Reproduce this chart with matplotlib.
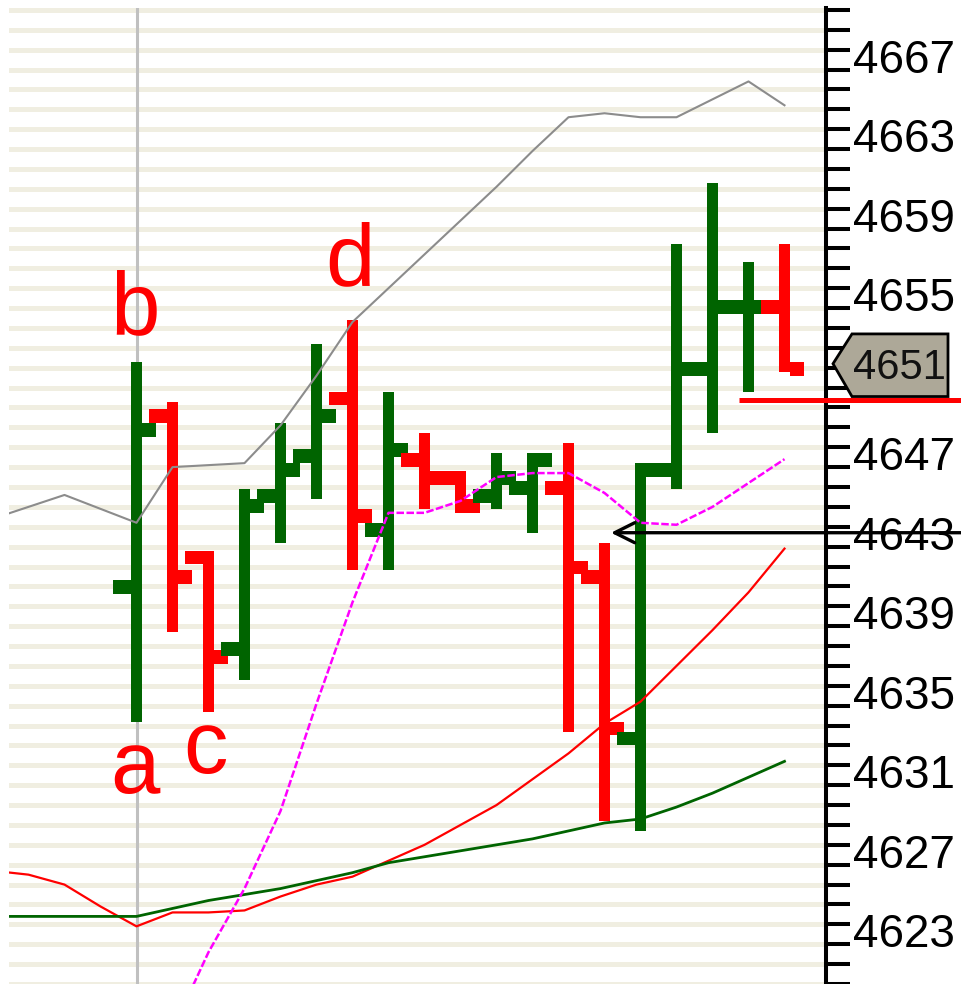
import numpy as np
import matplotlib
matplotlib.use("Agg")
import matplotlib.pyplot as plt
import matplotlib.transforms as mtransforms
from matplotlib.patches import Polygon

plt.rcParams['font.family'] = ['Liberation Sans', 'DejaVu Sans']

# OHLC bars, index 0..18
bar_open  = [4640.6, 4649.2, 4642.1, 4637.5, 4645.2, 4647.2, 4650.1, 4643.5, 4647.0, 4646.1,
             4645.2, 4645.6, 4645.6, 4641.1, 4633.0, 4646.5, 4651.6, 4654.7, 4654.7]
bar_high  = [4651.6, 4649.6, 4642.1, 4645.2, 4648.5, 4652.5, 4653.7, 4650.1, 4648.0, 4646.1,
             4647.0, 4647.0, 4647.5, 4642.5, 4646.5, 4657.5, 4660.6, 4656.6, 4657.5]
bar_low   = [4633.5, 4638.0, 4634.0, 4635.6, 4642.5, 4644.7, 4641.1, 4641.1, 4644.2, 4644.0,
             4644.2, 4643.0, 4633.0, 4628.5, 4628.0, 4645.2, 4648.0, 4650.1, 4651.1]
bar_close = [4648.5, 4641.1, 4637.1, 4644.7, 4646.5, 4649.2, 4644.2, 4647.5, 4646.1, 4644.7,
             4646.1, 4647.0, 4641.6, 4633.5, 4646.5, 4651.6, 4654.7, 4654.7, 4651.6]

# overlay lines, index -4..18
line_idx = list(range(-4, 19))
upper_band = [4643.7, 4644.3, 4644.9, 4644.2, 4643.5, 4646.3, 4646.4, 4646.5, 4648.4, 4650.9,
              4653.6, 4655.3, 4657.0, 4658.7, 4660.4, 4662.2, 4663.9, 4664.1, 4663.9, 4663.9,
              4664.8, 4665.7, 4664.5]
ma_red = [4626.0, 4625.8, 4625.3, 4624.2, 4623.2, 4623.9, 4623.9, 4624.0, 4624.7, 4625.3,
          4625.7, 4626.5, 4627.3, 4628.3, 4629.3, 4630.6, 4631.9, 4633.4, 4634.5, 4636.3,
          4638.1, 4640.0, 4642.2]
ma_green = [4623.7, 4623.7, 4623.7, 4623.7, 4623.7, 4624.1, 4624.5, 4624.8, 4625.1, 4625.5,
            4625.9, 4626.4, 4626.7, 4627.0, 4627.3, 4627.6, 4628.0, 4628.4, 4628.6, 4629.2,
            4629.9, 4630.7, 4631.5]
# magenta line, index 1..18
mag_idx = list(range(1, 19))
ma_magenta = [4618.0, 4621.9, 4625.1, 4629.0, 4634.4, 4639.5, 4644.0, 4644.0, 4644.6, 4645.8,
              4646.0, 4646.0, 4645.0, 4643.5, 4643.4, 4644.3, 4645.5, 4646.7]

wave_labels = ['a', 'b', 'c', 'd']
wave_x = [-0.04, -0.04, 1.93, 5.93]
wave_y = [4629.9, 4653.0, 4630.9, 4655.4]

axis_labels = list(range(4623, 4668, 4))
tick_vals = [k + 0.3 for k in range(4620, 4670)]

stop_level = 4649.7
stop_from = 16.74
arrow_level = 4643.0
arrow_tip = 13.18

green = '#006400'
red = '#FF0000'
last = bar_close[-1]

fig = plt.figure(figsize=(9.61, 9.84), dpi=100)
ax = fig.add_axes([9/961, 0, (825.5-9)/961, 1 - 8/984])
ax.set_xlim((9 - 136.5)/36, (825.5 - 136.5)/36)
ax.set_ylim(4667 - 928/20.05, 4667 + 48/20.05)

ax.yaxis.tick_right()
ax.set_yticks(axis_labels)
# the label under the price tag is covered by the tag
ax.set_yticklabels([str(v) if abs(v - last) > 2 else '' for v in axis_labels])
ax.set_yticks(tick_vals, minor=True)
ax.tick_params(axis='y', which='major', length=0, pad=19.5, labelsize=33)
ax.tick_params(axis='y', which='minor', length=17.6, width=2.9, color='black')
ax.set_xticks([])
for s in ['left', 'top', 'bottom']:
    ax.spines[s].set_visible(False)
ax.spines['right'].set_linewidth(2.9)
ax.yaxis.grid(True, which='minor', color='#F0EEE1', linewidth=3.6)
ax.set_axisbelow(True)

ax.axvline(0, color='#C0C0C0', lw=2.2, zorder=1)

bw = 11/36
lt = 18/36
rt = 14/36
th = 14/20.05
for i in range(len(bar_open)):
    o, h, l, c = bar_open[i], bar_high[i], bar_low[i], bar_close[i]
    col = green if c >= o else red
    z = 3 + i*0.01
    ax.bar(i, h - l, bottom=l, width=bw, color=col, linewidth=0, zorder=z)
    ax.bar(i - bw/2 - lt, th, bottom=o - th, width=lt, align='edge', color=col, linewidth=0, zorder=z)
    ax.bar(i + bw/2, th, bottom=c - th, width=rt, align='edge', color=col, linewidth=0, zorder=z)

ax.plot(line_idx, ma_red, color=red, lw=1.6, zorder=5)
ax.plot(line_idx, ma_green, color=green, lw=2.0, zorder=5.1)
ax.plot(mag_idx, ma_magenta, color='#FF00FF', lw=1.8, dashes=(3, 1.0), zorder=5.2)
ax.plot(line_idx, upper_band, color='#8C8C8C', lw=1.5, zorder=5.3)

for s, x, y in zip(wave_labels, wave_x, wave_y):
    ax.text(x, y, s, color=red, fontsize=64, ha='center', va='baseline', zorder=7)

ax.plot([stop_from, 24], [stop_level, stop_level], color=red, lw=3.6,
        solid_capstyle='butt', clip_on=False, zorder=6)

ax.annotate('', xy=(arrow_tip, arrow_level), xytext=(24, arrow_level),
            arrowprops=dict(arrowstyle='->,head_length=0.4,head_width=0.2', lw=2.4,
                            color='black', shrinkA=0, shrinkB=0, mutation_scale=36),
            annotation_clip=False, zorder=6)

# last price tag
tip = last - 0.1
trans = mtransforms.blended_transform_factory(fig.transFigure, ax.transData)
tag = Polygon([(833/961, tip), (852/961, tip + 1.5), (948/961, tip + 1.5),
               (948/961, tip - 1.65), (852/961, tip - 1.65)],
              closed=True, facecolor='#ADA898', edgecolor='black', lw=2,
              transform=trans, clip_on=False, zorder=8)
fig.add_artist(tag)
fig.text(899/961, tip, str(int(last)), transform=trans,
         ha='center', va='center_baseline', fontsize=30, color='#111111', zorder=9)

fig.savefig('out.png', dpi=100)
